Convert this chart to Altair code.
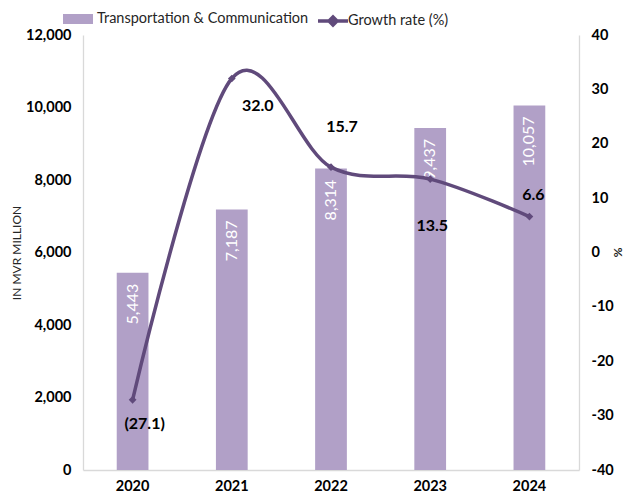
import altair as alt
import pandas as pd

years = ["2020", "2021", "2022", "2023", "2024"]
transport = [5443, 7187, 8314, 9437, 10057]
growth = [-27.1, 32.0, 15.7, 13.5, 6.6]

BAR_NAME = "Transportation & Communication"
LINE_NAME = "Growth rate (%)"

df = pd.DataFrame({"year": years, "value": transport, "growth": growth})
df["s1"] = BAR_NAME
df["s2"] = LINE_NAME

FONT = "Lato"
BAR = "#B1A0C7"
LINE = "#604A7B"
AXC = "#D9D9D9"

# label offsets (style) for growth labels, per year
label_off = {"2020": (12, 24), "2021": (26, 27), "2022": (11, -40),
             "2023": (2, 47), "2024": (4, -22)}

x = alt.X("year:N", scale=alt.Scale(paddingInner=0.68, paddingOuter=0.34),
          axis=alt.Axis(title=None, labelAngle=0, labelFont=FONT, labelFontSize=14.5,
                        labelFontWeight="bold", labelColor="black", domainColor=AXC,
                        domainWidth=1.3, ticks=False, labelPadding=9))

yl = alt.Y("value:Q", scale=alt.Scale(domain=[0, 12000], nice=False),
           axis=alt.Axis(title="IN MVR MILLION", values=list(range(0, 12001, 2000)),
                         format=",.0f", grid=False, ticks=False, labelPadding=12,
                         labelFont=FONT, labelFontSize=14.5, labelFontWeight="bold",
                         labelColor="black", domainColor=AXC, domainWidth=1.3,
                         titleFont=FONT, titleFontSize=12, titleFontWeight="normal",
                         titleColor="#262626", titlePadding=2))

yr = alt.Y("growth:Q", scale=alt.Scale(domain=[-40, 40], nice=False),
           axis=alt.Axis(orient="right", title="%", values=list(range(-40, 41, 10)),
                         labelExpr="'' + datum.value",
                         grid=False, ticks=False, labelPadding=12, labelAlign="left",
                         labelFont=FONT, labelFontSize=14.5, labelFontWeight="bold",
                         labelColor="black", domainColor=AXC, domainWidth=1.3,
                         titleFont=FONT, titleFontSize=12, titleFontWeight="bold",
                         titleColor="#262626", titleAngle=90, titleBaseline="middle",
                         titleAlign="center", titleX=38, titleY=217))

bars = alt.Chart(df).mark_bar().encode(
    x=x, y=yl,
    fill=alt.Fill("s1:N", scale=alt.Scale(range=[BAR]),
                  legend=alt.Legend(title=None, orient="none", legendX=-15, legendY=-26,
                                    symbolType="M-1.5,-0.5H1.5V0.5H-1.5Z", symbolSize=400,
                                    symbolStrokeWidth=0, labelOffset=9, labelLimit=0,
                                    labelFont=FONT, labelFontSize=14.5,
                                    labelColor="#262626")))

bar_text = alt.Chart(df).mark_text(angle=270, align="right", baseline="middle", dx=-11,
                                   color="white", font=FONT, fontSize=16).encode(
    x=x, y=alt.Y("value:Q"), text=alt.Text("value:Q", format=",.0f"))

left = alt.layer(bars, bar_text)

line = alt.Chart(df).mark_line(strokeWidth=3.5, interpolate="cardinal").encode(
    x=x, y=yr,
    stroke=alt.Stroke("s2:N", scale=alt.Scale(range=[LINE]),
                      legend=alt.Legend(title=None, orient="none", legendX=238, legendY=-26,
                                        symbolType="M-1.5,0H1.5M0,-0.4L0.4,0L0,0.4L-0.4,0Z",
                                        symbolSize=400, symbolStrokeWidth=3.5,
                                        symbolFillColor=LINE, labelOffset=3, labelLimit=0,
                                        labelFont=FONT, labelFontSize=14.5,
                                        labelColor="#262626")))

points = alt.Chart(df).mark_point(shape="diamond", filled=True, size=60, color=LINE,
                                  opacity=1).encode(x=x, y=alt.Y("growth:Q"))

labels = []
for yv in years:
    dx, dy = label_off[yv]
    labels.append(
        alt.Chart(df).transform_filter(alt.datum.year == yv).transform_calculate(
            lab="datum.growth < 0 ? '(' + format(-datum.growth, '.1f') + ')' : format(datum.growth, '.1f')"
        ).mark_text(dx=dx, dy=dy, font=FONT, fontSize=16, fontWeight="bold",
                    color="black", align="center", baseline="middle").encode(
            x=x, y=alt.Y("growth:Q"), text="lab:N"))

right = alt.layer(line, points, *labels)

chart = alt.layer(left, right).resolve_scale(y="independent", fill="independent",
                                              stroke="independent").properties(
    width=496, height=435,
    autosize=alt.AutoSizeParams(type="none"),
    padding={"left": 75, "top": 27, "right": 46, "bottom": 26},
).configure_view(stroke=None)

chart.save("out.html", embed_options={"renderer": "svg", "actions": False})
